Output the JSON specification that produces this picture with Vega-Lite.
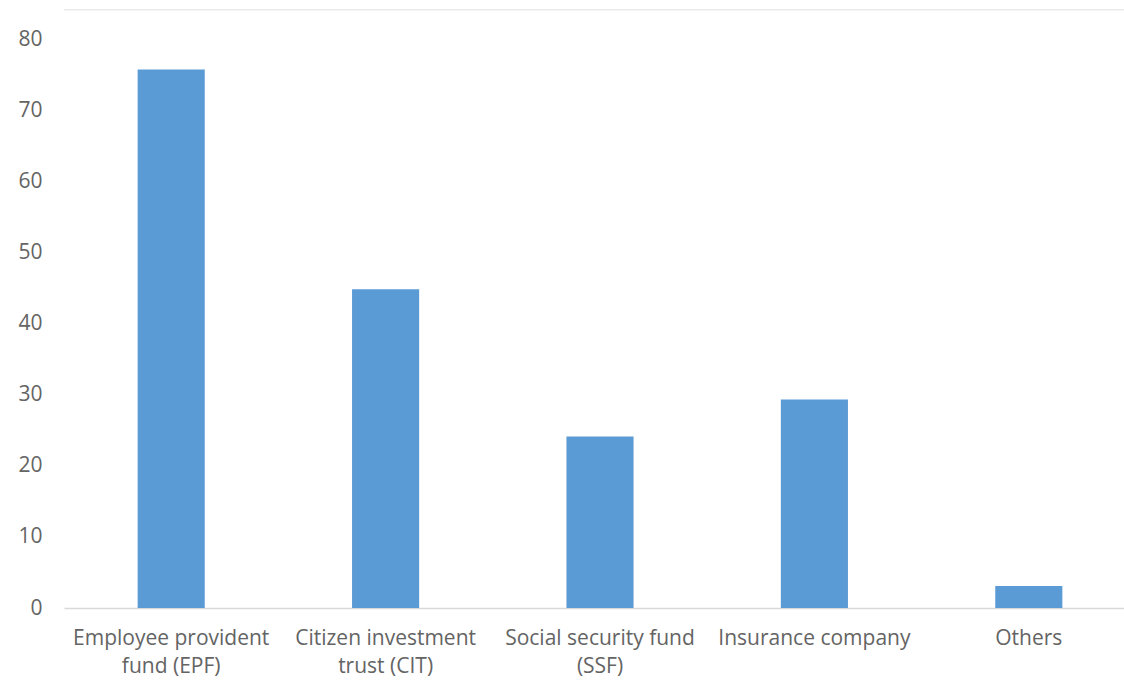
{
  "$schema": "https://vega.github.io/schema/vega-lite/v6.json",
  "autosize": "none",
  "width": 1072,
  "height": 569,
  "padding": {"left": 64, "top": 39, "right": 0, "bottom": 76},
  "background": "white",
  "config": {"view": {"stroke": null}, "font": "Open Sans"},
  "data": {"values": [
    {"category": "Employee provident|fund (EPF)", "value": 75.7},
    {"category": "Citizen investment|trust (CIT)", "value": 44.8},
    {"category": "Social security fund|(SSF)", "value": 24.1},
    {"category": "Insurance company", "value": 29.3},
    {"category": "Others", "value": 3.1}
  ]},
  "layer": [
    {
      "mark": {"type": "bar", "color": "#5B9BD5"},
      "encoding": {
        "x": {
          "field": "category", "type": "nominal", "sort": null,
          "scale": {"paddingInner": 0.687, "paddingOuter": 0.3435},
          "axis": {
            "title": null, "labelAngle": 0, "ticks": false,
            "domainColor": "#D9D9D9", "domainWidth": 1.5,
            "labelExpr": "split(datum.label, '|')",
            "labelFontSize": 21, "labelColor": "#646464", "labelLimit": 300,
            "labelPadding": 19, "labelLineHeight": 28, "labelBaseline": "top"
          }
        },
        "y": {
          "field": "value", "type": "quantitative",
          "scale": {"domain": [0, 80], "nice": false},
          "axis": {
            "title": null, "values": [0, 10, 20, 30, 40, 50, 60, 70, 80],
            "grid": false, "domain": false, "ticks": false,
            "labelFontSize": 21, "labelColor": "#646464", "labelPadding": 22
          }
        }
      }
    },
    {
      "data": {"values": [{"top": 84.1}]},
      "mark": {"type": "rule", "color": "#EBEBEB", "strokeWidth": 1.5},
      "encoding": {"y": {"field": "top", "type": "quantitative"}}
    }
  ]
}
